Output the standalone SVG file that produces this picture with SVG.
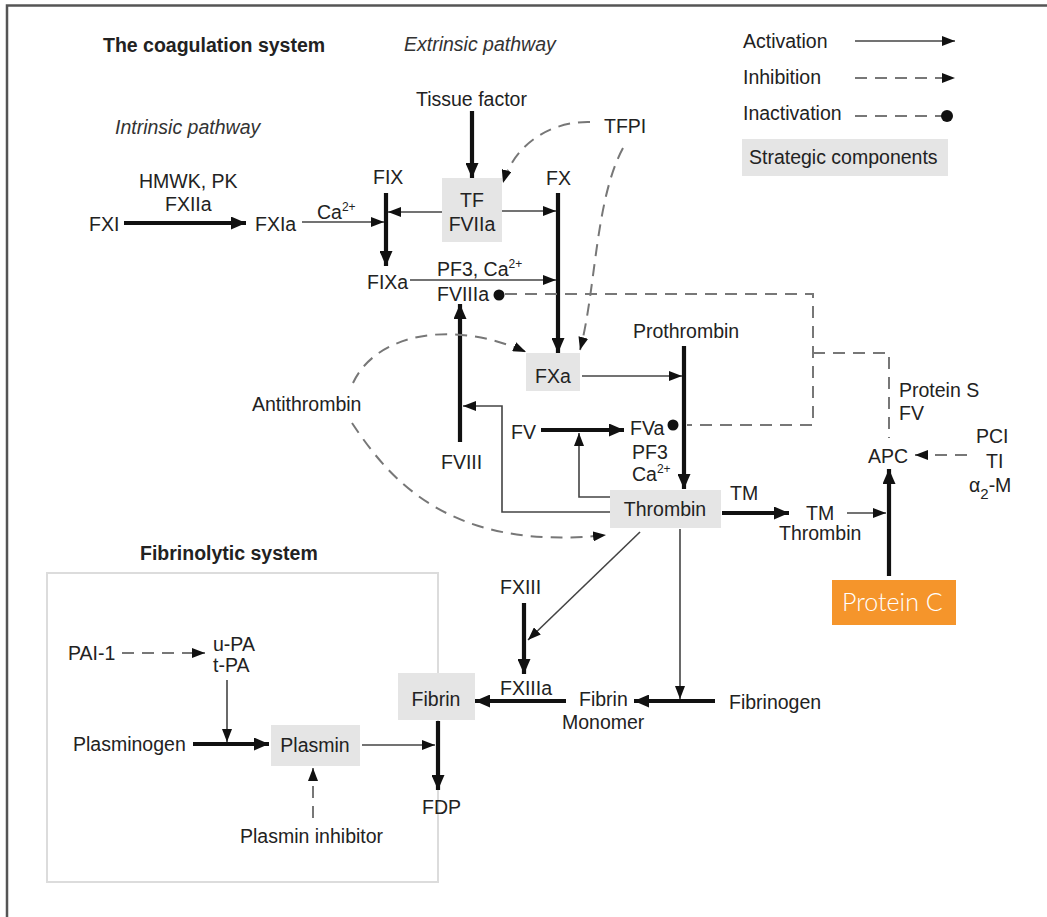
<svg xmlns="http://www.w3.org/2000/svg" width="1047" height="917" viewBox="0 0 1047 917">
  <style>
    text { font-family: "Liberation Sans", Arial, Helvetica, sans-serif; font-size: 19.5px; fill: #222; }
    .title { font-weight: bold; }
    .ital { font-style: italic; fill: #333; }
    .sup { font-size: 12px; }
    .box { fill: #e5e5e5; }
    .thin { stroke: #444; stroke-width: 1.6; fill: none; }
    .thick { stroke: #111; stroke-width: 4.2; fill: none; }
    .dash { stroke: #777; stroke-width: 2; stroke-dasharray: 12 8; fill: none; }
    .dot { fill: #111; }
  </style>
  <defs>
    <marker id="arrowThin" markerUnits="userSpaceOnUse" markerWidth="13" markerHeight="10" refX="13" refY="5" orient="auto">
      <path d="M0,0 L13,5 L0,10 z" fill="#111"/>
    </marker>
    <marker id="arrowThick" markerUnits="userSpaceOnUse" markerWidth="15" markerHeight="13" refX="15" refY="6.5" orient="auto">
      <path d="M0,0 L15,6.5 L0,13 z" fill="#111"/>
    </marker>
  </defs>

  <!-- frame -->
  <rect width="1047" height="917" fill="#ffffff"/>
  <path d="M7,917 V5.5 H1047" stroke="#555" stroke-width="2.5" fill="none"/>

  <!-- headings -->
  <g id="headings">
    <text class="title" x="103" y="52">The coagulation system</text>
    <text class="ital" x="404" y="51">Extrinsic pathway</text>
    <text class="ital" x="115" y="134">Intrinsic pathway</text>
    <text class="title" x="140" y="560">Fibrinolytic system</text>
  </g>

  <!-- legend -->
  <g id="legend">
    <text x="743" y="48">Activation</text>
    <line class="thin" x1="855" y1="41" x2="955" y2="41" stroke="#111" marker-end="url(#arrowThin)"/>
    <text x="743" y="84">Inhibition</text>
    <line class="dash" x1="855" y1="78" x2="955" y2="78" stroke="#333" marker-end="url(#arrowThin)"/>
    <text x="743" y="120">Inactivation</text>
    <line class="dash" x1="855" y1="116" x2="942" y2="116" stroke="#333"/>
    <circle class="dot" cx="947" cy="116" r="6"/>
    <rect class="box" x="742" y="139" width="206" height="37"/>
    <text x="749" y="164">Strategic components</text>
  </g>

  <!-- fibrinolytic system frame -->
  <rect id="fibrinolytic-frame" x="47" y="573" width="391" height="309" fill="none" stroke="#dcdcdc" stroke-width="2"/>

  <!-- connectors -->
  <g id="connectors">
    <!-- intrinsic pathway -->
    <line class="thick" x1="124" y1="223" x2="246" y2="223" marker-end="url(#arrowThick)"/>
    <line class="thin" x1="302" y1="222" x2="384" y2="222" marker-end="url(#arrowThin)"/>
    <line class="thick" x1="386" y1="193" x2="386" y2="266" marker-end="url(#arrowThick)"/>
    <line class="thin" x1="442" y1="212" x2="388" y2="212" marker-end="url(#arrowThin)"/>
    <!-- extrinsic pathway -->
    <line class="thick" x1="472" y1="111" x2="472" y2="178" marker-end="url(#arrowThick)"/>
    <line class="thin" x1="502" y1="211" x2="556" y2="211" marker-end="url(#arrowThin)"/>
    <line class="thick" x1="558" y1="193" x2="558" y2="353" marker-end="url(#arrowThick)"/>
    <line class="thin" x1="410" y1="280" x2="556" y2="280" marker-end="url(#arrowThin)"/>
    <!-- FVIII activation -->
    <line class="thick" x1="460" y1="442" x2="460" y2="304" marker-end="url(#arrowThick)"/>
    <!-- prothrombin to thrombin -->
    <line class="thin" x1="582" y1="376" x2="682" y2="376" marker-end="url(#arrowThin)"/>
    <line class="thick" x1="684" y1="346" x2="684" y2="489" marker-end="url(#arrowThick)"/>
    <!-- FV activation -->
    <line class="thick" x1="541" y1="430" x2="624" y2="430" marker-end="url(#arrowThick)"/>
    <polyline class="thin" points="610,497 579,497 579,433" marker-end="url(#arrowThin)"/>
    <polyline class="thin" points="610,512 502,512 502,406 463,406" marker-end="url(#arrowThin)"/>
    <!-- protein C pathway -->
    <line class="thick" x1="722" y1="513" x2="789" y2="513" marker-end="url(#arrowThick)"/>
    <line class="thin" x1="847" y1="513" x2="886" y2="513" marker-end="url(#arrowThin)"/>
    <line class="thick" x1="889" y1="576" x2="889" y2="469" marker-end="url(#arrowThick)"/>
    <line class="dash" x1="967" y1="455" x2="915" y2="455" marker-end="url(#arrowThin)"/>
    <!-- fibrin formation -->
    <line class="thin" x1="640" y1="532" x2="528" y2="640" marker-end="url(#arrowThin)"/>
    <line class="thick" x1="524" y1="603" x2="524" y2="674" marker-end="url(#arrowThick)"/>
    <line class="thick" x1="566" y1="701" x2="475" y2="701" marker-end="url(#arrowThick)"/>
    <line class="thin" x1="680" y1="529" x2="680" y2="699" marker-end="url(#arrowThin)"/>
    <line class="thick" x1="715" y1="701" x2="634" y2="701" marker-end="url(#arrowThick)"/>
    <!-- fibrinolysis -->
    <line class="dash" x1="122" y1="653" x2="205" y2="653" marker-end="url(#arrowThin)"/>
    <line class="thin" x1="227" y1="680" x2="227" y2="742" marker-end="url(#arrowThin)"/>
    <line class="thick" x1="193" y1="744" x2="269" y2="744" marker-end="url(#arrowThick)"/>
    <line class="thin" x1="362" y1="745" x2="435" y2="745" marker-end="url(#arrowThin)"/>
    <line class="thick" x1="438" y1="721" x2="438" y2="790" marker-end="url(#arrowThick)"/>
    <line class="dash" x1="313" y1="818" x2="313" y2="768" stroke-dasharray="14 10" marker-end="url(#arrowThin)"/>
    <!-- TFPI inhibition -->
    <path class="dash" d="M590,122 C550,121 514,145 503,183" marker-end="url(#arrowThin)"/>
    <path class="dash" d="M623,148 C595,200 596,290 580,350" marker-end="url(#arrowThin)"/>
    <!-- antithrombin inhibition -->
    <path class="dash" d="M353,383 C375,335 450,318 526,352" marker-end="url(#arrowThin)"/>
    <path class="dash" d="M352,423 C390,480 450,552 606,535" marker-end="url(#arrowThin)"/>
    <!-- APC inactivation of FVa and FVIIIa -->
    <path class="dash" d="M505,294 H813 V425 H687"/>
    <path class="dash" d="M813,353 H889 V438"/>
    <circle class="dot" cx="499" cy="295" r="5.5"/>
    <circle class="dot" cx="673" cy="425" r="5.5"/>
  </g>

  <!-- nodes -->
  <g id="node-tissue-factor"><text x="416" y="106">Tissue factor</text></g>
  <g id="node-tfpi"><text x="604" y="133">TFPI</text></g>
  <g id="node-hmwk"><text x="139" y="188">HMWK, PK</text><text x="165" y="211">FXIIa</text></g>
  <g id="node-fxi"><text x="89" y="231">FXI</text></g>
  <g id="node-fxia"><text x="255" y="231">FXIa</text></g>
  <g id="node-ca1"><text x="317" y="219">Ca<tspan class="sup" dy="-8">2+</tspan></text></g>
  <g id="node-fix"><text x="373" y="184">FIX</text></g>
  <g id="node-tf-fviia">
    <rect class="box" x="442" y="178" width="60" height="64"/>
    <text x="472" y="207" text-anchor="middle">TF</text>
    <text x="472" y="231" text-anchor="middle">FVIIa</text>
  </g>
  <g id="node-fx"><text x="546" y="185">FX</text></g>
  <g id="node-fixa"><text x="367" y="289">FIXa</text></g>
  <g id="node-pf3-ca"><text x="437" y="276">PF3, Ca<tspan class="sup" dy="-8">2+</tspan></text></g>
  <g id="node-fviiia"><text x="437" y="301">FVIIIa</text></g>
  <g id="node-prothrombin"><text x="633" y="338">Prothrombin</text></g>
  <g id="node-fxa">
    <rect class="box" x="526" y="353" width="54" height="38"/>
    <text x="553" y="383" text-anchor="middle">FXa</text>
  </g>
  <g id="node-antithrombin"><text x="252" y="411">Antithrombin</text></g>
  <g id="node-fviii"><text x="441" y="469">FVIII</text></g>
  <g id="node-fv"><text x="511" y="439">FV</text></g>
  <g id="node-fva">
    <text x="630" y="435">FVa</text>
    <text x="632" y="459">PF3</text>
    <text x="632" y="481">Ca<tspan class="sup" dy="-8">2+</tspan></text>
  </g>
  <g id="node-thrombin">
    <rect class="box" x="610" y="490" width="111" height="38"/>
    <text x="665" y="516" text-anchor="middle">Thrombin</text>
  </g>
  <g id="node-tm"><text x="730" y="500">TM</text></g>
  <g id="node-tm-thrombin"><text x="806" y="520">TM</text><text x="779" y="540">Thrombin</text></g>
  <g id="node-protein-s"><text x="899" y="397">Protein S</text><text x="899" y="420">FV</text></g>
  <g id="node-apc"><text x="868" y="463">APC</text></g>
  <g id="node-inhibitors">
    <text x="976" y="443">PCI</text>
    <text x="986" y="468">TI</text>
    <text x="969" y="492">α<tspan font-size="15" dy="7">2</tspan><tspan dy="-7">-M</tspan></text>
  </g>
  <g id="node-protein-c">
    <rect x="832" y="580" width="124" height="45" fill="#f5952b"/>
    <text x="842" y="611" style="font-family: Lato, 'Open Sans', sans-serif; font-size: 25px; font-weight: 300; fill: #ffffff;">Protein C</text>
  </g>
  <g id="node-fxiii"><text x="500" y="594">FXIII</text></g>
  <g id="node-fxiiia"><text x="500" y="695">FXIIIa</text></g>
  <g id="node-fibrin-monomer"><text x="579" y="706">Fibrin</text><text x="562" y="729">Monomer</text></g>
  <g id="node-fibrinogen"><text x="729" y="709">Fibrinogen</text></g>
  <g id="node-fibrin">
    <rect class="box" x="398" y="673" width="77" height="47"/>
    <text x="436" y="706" text-anchor="middle">Fibrin</text>
  </g>
  <g id="node-pai1"><text x="68" y="660">PAI-1</text></g>
  <g id="node-pa"><text x="213" y="651">u-PA</text><text x="213" y="672">t-PA</text></g>
  <g id="node-plasminogen"><text x="73" y="751">Plasminogen</text></g>
  <g id="node-plasmin">
    <rect class="box" x="271" y="725" width="89" height="41"/>
    <text x="315" y="752" text-anchor="middle">Plasmin</text>
  </g>
  <g id="node-fdp"><text x="422" y="814">FDP</text></g>
  <g id="node-plasmin-inhibitor"><text x="240" y="843">Plasmin inhibitor</text></g>
</svg>
